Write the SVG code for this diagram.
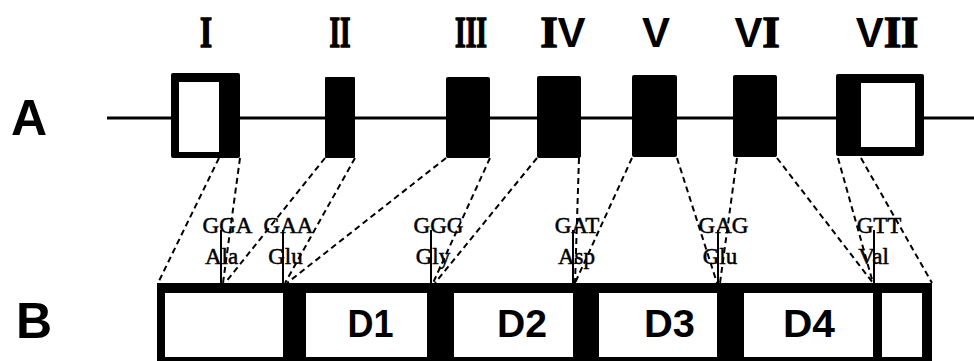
<svg xmlns="http://www.w3.org/2000/svg" width="974" height="361" viewBox="0 0 974 361">
<style>
.row{font-family:"Liberation Sans",Arial,sans-serif;font-weight:bold;font-size:50px;fill:#000}
.rn{font-weight:bold;font-size:44px;fill:#000;text-anchor:middle}
.rs{font-family:"Liberation Serif","Times New Roman",serif;stroke:#000;stroke-width:1.6}
.rv{font-family:"Liberation Sans",Arial,sans-serif;font-size:42px;stroke:none}
.cod{font-family:"Liberation Serif","Times New Roman",serif;font-size:23px;fill:#000;stroke:#000;stroke-width:0.5;text-anchor:middle}
.dom{font-family:"Liberation Sans",Arial,sans-serif;font-weight:bold;font-size:39px;fill:#000;text-anchor:middle}
.exon{fill:#000}
.utr{fill:#fff}
.dash{stroke:#000;stroke-width:2;stroke-dasharray:6 4;fill:none}
.tick{stroke:#000;stroke-width:2}
</style>
<rect width="974" height="361" fill="#fff"/>
<g id="labels-rows">
<text class="row" x="11" y="135">A</text>
<text class="row" x="16" y="338">B</text>
</g>
<g id="gene-line"><line x1="107" y1="118" x2="974" y2="118" stroke="#000" stroke-width="3"/></g>
<g id="exon-I">
<text class="rn rs" x="206" y="47" textLength="12" lengthAdjust="spacingAndGlyphs">I</text>
<rect class="exon" x="171" y="73" width="69" height="85" rx="2"/>
<rect class="utr" x="179" y="82" width="40" height="70"/>
</g>
<g id="exon-II">
<text class="rn rs" x="340" y="47" textLength="21" lengthAdjust="spacingAndGlyphs">II</text>
<rect class="exon" x="325" y="77" width="30" height="81" rx="1"/>
</g>
<g id="exon-III">
<text class="rn rs" x="471" y="47" textLength="32" lengthAdjust="spacingAndGlyphs">III</text>
<rect class="exon" x="446" y="77" width="44" height="81" rx="2"/>
</g>
<g id="exon-IV">
<text class="rn" x="563" y="47"><tspan class="rs">I</tspan><tspan class="rv">V</tspan></text>
<rect class="exon" x="537" y="76" width="44" height="82" rx="2"/>
</g>
<g id="exon-V">
<text class="rn rv" x="656" y="47">V</text>
<rect class="exon" x="632" y="75" width="45" height="82" rx="2"/>
</g>
<g id="exon-VI">
<text class="rn" x="757" y="47"><tspan class="rv">V</tspan><tspan class="rs">I</tspan></text>
<rect class="exon" x="733" y="75" width="44" height="82" rx="2"/>
</g>
<g id="exon-VII">
<text class="rn" x="887" y="47"><tspan class="rv">V</tspan><tspan class="rs">II</tspan></text>
<rect class="exon" x="836" y="74" width="88" height="82" rx="2"/>
<rect class="utr" x="861" y="83" width="54" height="64"/>
</g>
<g id="connectors">
<line class="dash" x1="219" y1="158" x2="158" y2="283"/>
<line class="dash" x1="240" y1="158" x2="223" y2="283"/>
<line class="dash" x1="325" y1="158" x2="225" y2="283"/>
<line class="dash" x1="355" y1="158" x2="285" y2="283"/>
<line class="dash" x1="446" y1="158" x2="287" y2="283"/>
<line class="dash" x1="490" y1="158" x2="433" y2="283"/>
<line class="dash" x1="537" y1="158" x2="435" y2="283"/>
<line class="dash" x1="579" y1="158" x2="575" y2="283"/>
<line class="dash" x1="632" y1="158" x2="575" y2="283"/>
<line class="dash" x1="677" y1="158" x2="717" y2="283"/>
<line class="dash" x1="737" y1="158" x2="720" y2="283"/>
<line class="dash" x1="777" y1="158" x2="873" y2="283"/>
<line class="dash" x1="838" y1="158" x2="873" y2="283"/>
<line class="dash" x1="861" y1="158" x2="932" y2="283"/>
<line class="tick" x1="221" y1="230" x2="221" y2="284"/>
<line class="tick" x1="283" y1="230" x2="283" y2="284"/>
<line class="tick" x1="431" y1="230" x2="431" y2="284"/>
<line class="tick" x1="573" y1="230" x2="573" y2="284"/>
<line class="tick" x1="718" y1="230" x2="718" y2="284"/>
<line class="tick" x1="874" y1="230" x2="874" y2="284"/>
</g>
<g id="codons">
<text class="cod" x="227.5" y="233">GGA</text>
<text class="cod" x="221.5" y="264">Ala</text>
<text class="cod" x="288.5" y="233">GAA</text>
<text class="cod" x="285.5" y="264">Glu</text>
<text class="cod" x="438.5" y="233">GGG</text>
<text class="cod" x="433" y="264">Gly</text>
<text class="cod" x="577" y="233">GAT</text>
<text class="cod" x="576.5" y="264">Asp</text>
<text class="cod" x="723.5" y="233">GAG</text>
<text class="cod" x="720" y="264">Glu</text>
<text class="cod" x="879" y="233">GTT</text>
<text class="cod" x="873.5" y="264">Val</text>
</g>
<g id="protein">
<rect class="exon" x="157" y="283" width="775" height="78"/>
<rect class="utr" x="165" y="293" width="118" height="64"/>
<rect class="utr" x="306" y="293" width="121" height="64"/>
<rect class="utr" x="454" y="293" width="119" height="64"/>
<rect class="utr" x="599" y="293" width="118" height="64"/>
<rect class="utr" x="744" y="293" width="129" height="64"/>
<rect class="utr" x="882" y="293" width="40" height="64"/>
<text class="dom" x="370.5" y="337" textLength="46" lengthAdjust="spacingAndGlyphs">D1</text>
<text class="dom" x="522" y="337" textLength="50" lengthAdjust="spacingAndGlyphs">D2</text>
<text class="dom" x="669.5" y="337" textLength="51" lengthAdjust="spacingAndGlyphs">D3</text>
<text class="dom" x="809" y="337" textLength="52" lengthAdjust="spacingAndGlyphs">D4</text>
</g>
</svg>
